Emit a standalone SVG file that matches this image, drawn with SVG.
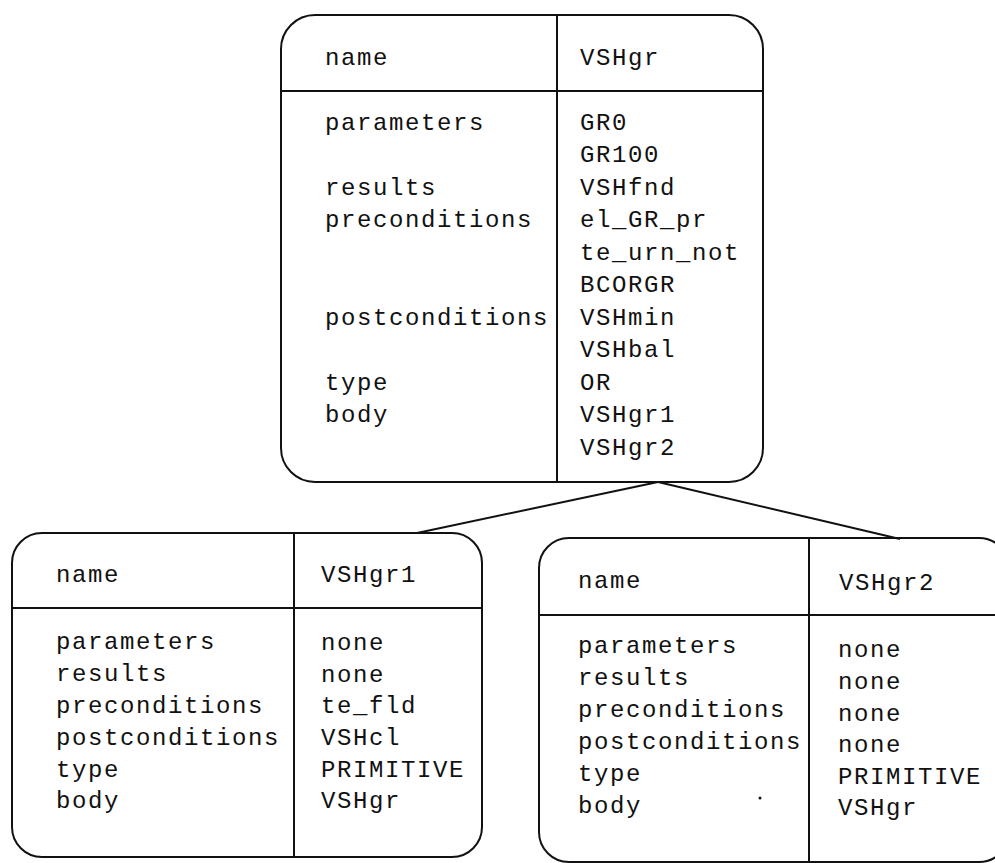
<svg xmlns="http://www.w3.org/2000/svg" width="995" height="863" viewBox="0 0 995 863">
<style>
.box{fill:none;stroke:#111;stroke-width:2}
.ln{stroke:#111;stroke-width:2;fill:none}
text{font-family:"Liberation Mono","DejaVu Sans Mono",monospace;font-size:24px;letter-spacing:1.6px;fill:#111}
</style>
<rect width="995" height="863" fill="#fff"/>
<g id="connectors">
<line class="ln" x1="658" y1="482" x2="417" y2="533"/>
<line class="ln" x1="658" y1="482" x2="900" y2="539"/>
</g>
<g id="VSHgr">
<rect class="box" x="281" y="15" width="482" height="467" rx="34" ry="34"/>
<line class="ln" x1="281" y1="91" x2="763" y2="91"/>
<line class="ln" x1="557" y1="15" x2="557" y2="482"/>
<text x="325" y="65">name</text>
<text x="580" y="65">VSHgr</text>
<text x="325" y="130">parameters</text>
<text x="325" y="195">results</text>
<text x="325" y="227">preconditions</text>
<text x="325" y="325">postconditions</text>
<text x="325" y="390">type</text>
<text x="325" y="422">body</text>
<text x="580" y="130">GR0</text>
<text x="580" y="162">GR100</text>
<text x="580" y="195">VSHfnd</text>
<text x="580" y="227">el_GR_pr</text>
<text x="580" y="260">te_urn_not</text>
<text x="580" y="292">BCORGR</text>
<text x="580" y="325">VSHmin</text>
<text x="580" y="357">VSHbal</text>
<text x="580" y="390">OR</text>
<text x="580" y="422">VSHgr1</text>
<text x="580" y="455">VSHgr2</text>
</g>
<g id="VSHgr1">
<rect class="box" x="12" y="533" width="470" height="324" rx="30" ry="30"/>
<line class="ln" x1="12" y1="608" x2="482" y2="608"/>
<line class="ln" x1="294" y1="533" x2="294" y2="857"/>
<text x="56" y="582">name</text>
<text x="321" y="582">VSHgr1</text>
<text x="56" y="649">parameters</text>
<text x="56" y="681">results</text>
<text x="56" y="713">preconditions</text>
<text x="56" y="745">postconditions</text>
<text x="56" y="777">type</text>
<text x="56" y="808">body</text>
<text x="321" y="650">none</text>
<text x="321" y="682">none</text>
<text x="321" y="713">te_fld</text>
<text x="321" y="745">VSHcl</text>
<text x="321" y="777">PRIMITIVE</text>
<text x="321" y="808">VSHgr</text>
</g>
<g id="VSHgr2">
<rect class="box" x="539" y="538" width="470" height="324" rx="30" ry="30"/>
<line class="ln" x1="539" y1="615" x2="1000" y2="615"/>
<line class="ln" x1="809" y1="538" x2="809" y2="863"/>
<text x="578" y="588">name</text>
<text x="839" y="590">VSHgr2</text>
<text x="578" y="653">parameters</text>
<text x="578" y="685">results</text>
<text x="578" y="717">preconditions</text>
<text x="578" y="749">postconditions</text>
<text x="578" y="781">type</text>
<text x="578" y="813">body</text>
<text x="838" y="657">none</text>
<text x="838" y="689">none</text>
<text x="838" y="721">none</text>
<text x="838" y="752">none</text>
<text x="838" y="784">PRIMITIVE</text>
<text x="838" y="815">VSHgr</text>
<circle cx="760" cy="798" r="1.5" fill="#111"/>
</g>
</svg>
